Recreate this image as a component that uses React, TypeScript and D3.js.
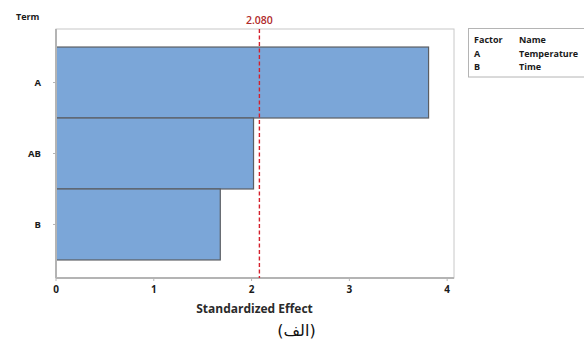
import React from "react";
import * as d3 from "d3";

// Pareto chart of standardized effects
const terms = ["A", "AB", "B"];
const effects = [3.81, 2.02, 1.68];
const xTicks = [0, 1, 2, 3, 4];
const critical = 2.08;
const legendFactors = ["A", "B"];
const legendNames = ["Temperature", "Time"];

const W = 584;
const H = 351;
const plot = { left: 56, top: 29, right: 454, bottom: 278 };
const FONT = "'Open Sans', 'Noto Sans', sans-serif";

export default function App() {
  const x = d3.scaleLinear().domain([0, 4.07]).range([plot.left, plot.right]);
  const y = d3
    .scaleBand<string>()
    .domain(terms)
    .range([plot.top, plot.bottom])
    .paddingInner(0)
    .paddingOuter(0.254);

  const refX = x(critical);

  return (
    <svg
      width={W}
      height={H}
      style={{ position: "absolute", left: 0, top: 0, background: "#fff" }}
      fontFamily={FONT}
    >
      {/* plot frame */}
      <rect
        x={plot.left}
        y={plot.top}
        width={plot.right - plot.left}
        height={plot.bottom - plot.top}
        fill="#fff"
        stroke="#c8c8c8"
        strokeWidth={1}
      />

      {/* bars */}
      {terms.map((t, i) => (
        <rect
          key={t}
          x={x(0)}
          y={y(t)!}
          width={x(effects[i]) - x(0)}
          height={y.bandwidth()}
          fill="#7BA6D8"
          stroke="#5b5e63"
          strokeWidth={1.2}
        />
      ))}

      {/* axis lines */}
      <line x1={plot.left} x2={plot.left} y1={plot.top} y2={plot.bottom} stroke="#b4b4b4" strokeWidth={2} />
      <line x1={plot.left} x2={plot.right} y1={plot.bottom} y2={plot.bottom} stroke="#b4b4b4" strokeWidth={2} />

      {/* reference line */}
      <line
        x1={refX}
        x2={refX}
        y1={plot.top}
        y2={plot.bottom}
        stroke="#d4202c"
        strokeWidth={1.4}
        strokeDasharray="4,2.5"
      />
      <text x={refX} y={24} textAnchor="middle" fontSize={10.5} fontWeight={600} fill="#b02a2a">
        {critical.toFixed(3)}
      </text>

      {/* y axis */}
      {terms.map((t) => {
        const cy = y(t)! + y.bandwidth() / 2;
        return (
          <g key={t}>
            <line x1={plot.left - 3} x2={plot.left} y1={cy} y2={cy} stroke="#b4b4b4" strokeWidth={1} />
            <text x={41} y={cy} dy="0.35em" textAnchor="end" fontSize={9.5} fontWeight="bold" fill="#1a1a1a">
              {t}
            </text>
          </g>
        );
      })}
      <text x={16} y={20} fontSize={9} fontWeight="bold" fill="#1a1a1a">
        Term
      </text>

      {/* x axis */}
      {xTicks.map((v) => (
        <g key={v}>
          <line x1={x(v)} x2={x(v)} y1={plot.bottom} y2={plot.bottom + 3} stroke="#b4b4b4" strokeWidth={1} />
          <text x={x(v)} y={289} dy="0.35em" textAnchor="middle" fontSize={10} fontWeight="bold" fill="#1a1a1a">
            {v}
          </text>
        </g>
      ))}
      <text x={254.5} y={309} dy="0.35em" textAnchor="middle" fontSize={12} fontWeight="bold" fill="#2a2a2a">
        Standardized Effect
      </text>

      {/* caption */}
      <text x={296.5} y={330} dy="0.35em" textAnchor="middle" fontSize={16} fill="#111" fontFamily="'DejaVu Sans', sans-serif">
        (الف)
      </text>

      {/* factor legend */}
      <rect x={468.5} y={28.5} width={130} height={48.5} fill="#fff" stroke="#b4b4b4" strokeWidth={1} />
      <text x={474} y={40} dy="0.35em" fontSize={9} fontWeight="bold" fill="#1a1a1a">Factor</text>
      <text x={519} y={40} dy="0.35em" fontSize={9} fontWeight="bold" fill="#1a1a1a">Name</text>
      {legendFactors.map((f, i) => (
        <g key={f}>
          <text x={474} y={54 + i * 13} dy="0.35em" fontSize={9} fontWeight="bold" fill="#1a1a1a">{f}</text>
          <text x={519} y={54 + i * 13} dy="0.35em" fontSize={9} fontWeight="bold" fill="#1a1a1a">{legendNames[i]}</text>
        </g>
      ))}
    </svg>
  );
}
